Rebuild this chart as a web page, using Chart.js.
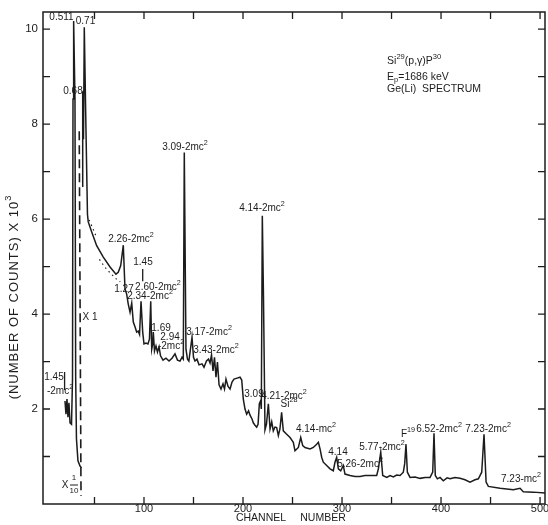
<!DOCTYPE html>
<html><head><meta charset="utf-8">
<script src="https://cdn.jsdelivr.net/npm/chart.js@4/dist/chart.umd.min.js"></script>
<style>html,body{margin:0;padding:0;background:#fff;}canvas{display:block;}</style>
</head><body>
<canvas id="c" width="548" height="525"></canvas>
<script>
// ---- spectrum shown at x 1/10 (left part) ----
const lowChannels = [20.2,21.2,22.2,23.2,24.2,25.3,26.8,27.8,28.3,28.6,29.3,30.3,31.0,31.8,33.3,35.4,36.9];
const lowCounts   = [2.17,1.89,2.21,1.83,2.13,1.71,1.68,2.63,8.53,10.17,10.17,8.53,2.67,1.37,0.91,0.80,0.76];
// ---- dashed x1 continuation ----
const dashChannels = [34.6, 36.4];
const dashCounts   = [7.85, 0.17];
// ---- main spectrum at x 1 ----
const mainChannels = [37.4,38.1,38.9,39.7,41.4,42.9,43.7,47.2,52.2,58.9,65.7,71.7,74.0,76.5,79.1,80.8,82.5,84.1,85.9,87.6,89.2,90.9,92.6,94.2,95.5,97.0,98.7,100.0,102.0,104.0,105.5,106.8,107.8,108.8,109.4,110.6,112.1,113.6,115.2,116.7,119.2,122.2,125.3,128.3,131.3,133.8,136.4,138.4,139.7,140.7,142.4,143.9,145.3,148.5,150.0,151.5,153.5,155.6,158.6,160.6,163.1,165.2,166.7,168.2,169.7,171.2,172.7,174.2,175.8,177.8,179.8,181.3,182.8,184.8,186.9,188.9,190.9,194.0,197.0,198.7,200.3,202.0,203.7,205.6,207.1,209.1,210.4,212.1,213.8,215.2,216.5,217.7,218.5,219.5,220.7,222.2,223.7,225.6,227.3,229.0,230.6,232.3,234.0,235.7,237.3,239.0,240.7,244.1,247.5,250.8,252.5,255.9,258.3,260.3,262.6,267.7,271.0,274.4,276.1,277.8,279.5,281.1,284.5,287.9,291.2,292.9,294.6,296.3,298.7,301.3,303.0,308.1,313.1,318.2,323.2,328.3,335.0,336.7,339.1,341.1,345.2,348.5,351.8,355.2,358.6,361.9,363.3,364.6,366.0,368.7,373.7,378.8,383.8,388.9,391.6,392.9,394.2,396.3,399.0,402.3,406.1,409.1,414.1,419.2,424.2,429.3,434.3,437.7,441.1,443.4,445.5,447.8,459.6,473.0,479.8,483.1,493.2,505.0];
const mainCounts = [6.69,8.69,7.68,10.04,7.89,6.10,5.94,5.73,5.44,5.20,4.99,4.84,4.88,5.02,5.45,4.53,4.42,4.21,4.04,4.23,3.83,3.73,3.62,3.64,3.57,4.27,3.62,3.37,3.39,3.37,3.47,4.27,3.26,3.37,3.62,3.22,3.33,3.20,3.31,3.12,3.03,3.07,3.01,3.07,3.16,3.03,3.01,3.09,3.05,7.40,3.26,3.05,3.01,3.51,3.09,3.01,3.05,2.93,2.95,2.88,3.01,3.05,2.97,3.14,2.80,3.09,2.67,2.99,2.51,2.42,2.53,2.42,2.63,2.48,2.42,2.57,2.63,2.65,2.67,2.61,2.21,2.00,1.89,1.96,1.87,1.79,1.71,1.66,1.62,1.68,2.11,2.17,2.00,6.07,4.32,1.56,1.68,2.11,1.58,1.73,1.54,1.62,1.61,1.44,1.58,1.93,1.54,1.47,1.40,1.30,1.12,1.19,1.40,1.23,1.19,1.16,1.19,1.26,1.30,1.16,0.98,0.88,0.81,0.74,0.70,0.88,0.98,0.74,0.70,0.81,0.63,0.60,0.58,0.58,0.60,0.60,0.60,0.74,1.09,0.60,0.56,0.60,0.57,0.61,0.60,0.67,0.85,1.26,0.67,0.56,0.57,0.54,0.56,0.56,0.67,1.49,0.60,0.53,0.56,0.49,0.55,0.53,0.56,0.54,0.51,0.46,0.51,0.53,0.67,1.47,0.46,0.37,0.33,0.30,0.33,0.26,0.25,0.23];
// ---- dotted background points ----
const dotChannels = [44.5,48.0,52.0,null,55.0,60.0,66.0,72.0,76.0];
const dotCounts   = [5.98,5.82,5.62,null,5.15,5.00,4.86,4.74,4.68];
// ---- axes ----
const xTickLabels = [100,200,300,400,500];
const yTickLabels = [2,4,6,8,10];
const xMinorTicks = [50,100,150,200,250,300,350,400,450,500];
const yMinorTicks = [1,2,3,4,5,6,7,8,9,10];
// ---- annotations: text, channel, counts (x10^3) ----
const peakLabels = [
  ["0.511",16.7,10.25],["0.71",40.9,10.17],["0.68",28.3,8.69],
  ["2.26-2mc^{2}",86.9,5.58],["1.45",99.0,5.09],["1.27",79.8,4.53],
  ["2.60-2mc^{2}",114.1,4.57],["2.34-2mc^{2}",106.1,4.38],["1.69",117.2,3.71],
  ["2.94",126.3,3.52],["-2mc^{2}",127.3,3.33],["3.09-2mc^{2}",141.4,7.52],
  ["3.17-2mc^{2}",165.7,3.62],["3.43-2mc^{2}",172.7,3.24],["4.14-2mc^{2}",219.2,6.23],
  ["3.09",211.1,2.32],["4.21-2mc^{2}",241.4,2.27],["Si^{28}",246.5,2.11],
  ["4.14-mc^{2}",273.7,1.58],["4.14",295.9,1.09],["5.26-2mc^{2}",318.2,0.84],
  ["5.77-2mc^{2}",340.4,1.20],["F^{19}",366.7,1.47],["6.52-2mc^{2}",398.0,1.58],
  ["7.23-2mc^{2}",447.5,1.58],["7.23-mc^{2}",480.8,0.53],
  ["1.45",9.1,2.67],["-2mc^{2}",15.2,2.38],["X 1",45.5,3.94]
];
const pointerLines = [[98.7,4.95,4.69],[19.8,2.78,2.40]];
const titleLines = [["Si^{29}(p,\u03b3)P^{30}",345.5,9.33],["E_{p}=1686 keV",345.5,8.99],["Ge(Li)  SPECTRUM",345.5,8.74]];

const FONT = '"Liberation Sans", Arial, sans-serif';
const INK = '#1c1c1c';
function parseRich(s){const re=/\^\{([^}]*)\}|_\{([^}]*)\}/g;let out=[],last=0,m;
  while((m=re.exec(s))){if(m.index>last)out.push({t:s.slice(last,m.index),k:0});
    if(m[1]!==undefined)out.push({t:m[1],k:1});else out.push({t:m[2],k:-1});last=re.lastIndex;}
  if(last<s.length)out.push({t:s.slice(last),k:0});return out;}
function drawRich(ctx,s,x,y,size,align){const segs=parseRich(s);let w=0;
  segs.forEach(g=>{ctx.font=(g.k?size*0.72:size)+'px '+FONT;g.w=ctx.measureText(g.t).width;w+=g.w;});
  let cx=align==='left'?x:(align==='right'?x-w:x-w/2);ctx.textAlign='left';ctx.textBaseline='middle';
  segs.forEach(g=>{ctx.font=(g.k?size*0.72:size)+'px '+FONT;const dy=g.k===1?-size*0.4:(g.k===-1?size*0.32:0);
    ctx.fillText(g.t,cx,y+dy);cx+=g.w;});}

const pts=(xs,ys)=>xs.map((c,i)=>({x:c,y:ys[i]}));
const framePlugin={id:'frame',afterDraw(chart){
  const ctx=chart.ctx,a=chart.chartArea,X=chart.scales.x,Y=chart.scales.y;
  ctx.save();ctx.strokeStyle=INK;ctx.fillStyle=INK;ctx.lineWidth=1.5;
  ctx.strokeRect(a.left,a.top,a.right-a.left,a.bottom-a.top);
  ctx.lineWidth=1.3;ctx.beginPath();
  xMinorTicks.forEach(v=>{const p=X.getPixelForValue(v);ctx.moveTo(p,a.bottom);ctx.lineTo(p,a.bottom-7);ctx.moveTo(p,a.top);ctx.lineTo(p,a.top+7);});
  yMinorTicks.forEach(v=>{const p=Y.getPixelForValue(v);ctx.moveTo(a.left,p);ctx.lineTo(a.left+7,p);ctx.moveTo(a.right,p);ctx.lineTo(a.right-7,p);});
  pointerLines.forEach(l=>{const p=X.getPixelForValue(l[0]);ctx.moveTo(p,Y.getPixelForValue(l[1]));ctx.lineTo(p,Y.getPixelForValue(l[2]));});
  ctx.stroke();
  peakLabels.forEach(l=>drawRich(ctx,l[0],X.getPixelForValue(l[1]),Y.getPixelForValue(l[2]),10,'center'));
  titleLines.forEach(l=>drawRich(ctx,l[0],X.getPixelForValue(l[1]),Y.getPixelForValue(l[2]),10.5,'left'));
  // X 1/10 fraction label
  const fx=X.getPixelForValue(29.3),fy=Y.getPixelForValue(0.40);
  drawRich(ctx,'X',X.getPixelForValue(20.2),fy,10,'center');
  drawRich(ctx,'1',fx,fy-7,8,'center');drawRich(ctx,'10',fx,fy+6,8,'center');
  ctx.beginPath();ctx.lineWidth=1;ctx.moveTo(fx-4,fy);ctx.lineTo(fx+4,fy);ctx.stroke();
  // axis titles
  ctx.font='10.5px '+FONT;ctx.textAlign='center';ctx.textBaseline='middle';
  ctx.fillText('CHANNEL',261,518);ctx.fillText('NUMBER',323,518);
  ctx.translate(14,297);ctx.rotate(-Math.PI/2);ctx.letterSpacing='1px';
  drawRich(ctx,'(NUMBER OF COUNTS) X 10^{3}',0,0,13,'center');
  ctx.restore();}};

new Chart(document.getElementById('c'),{
  type:'line',
  data:{datasets:[
    {data:pts(lowChannels,lowCounts),borderColor:INK,borderWidth:1.5,pointRadius:0,tension:0},
    {data:pts(dashChannels,dashCounts),borderColor:INK,borderWidth:1.6,borderDash:[9,5],pointRadius:0},
    {data:pts(mainChannels,mainCounts),borderColor:INK,borderWidth:1.5,pointRadius:0,tension:0},
    {data:pts(dotChannels,dotCounts),borderColor:INK,borderWidth:1.2,borderDash:[1.5,3.5],pointRadius:0,spanGaps:false}
  ]},
  options:{responsive:false,animation:false,devicePixelRatio:1,
    layout:{padding:{top:12,right:3,left:0,bottom:0}},
    plugins:{legend:{display:false},tooltip:{enabled:false}},
    scales:{
      x:{type:'linear',min:-2,max:505,grid:{display:false,drawTicks:false},border:{display:false},
        ticks:{color:INK,font:{family:FONT,size:11},padding:-2,maxRotation:0},
        afterBuildTicks(s){s.ticks=xTickLabels.map(v=>({value:v}));},
        afterFit(s){s.height=21;}},
      y:{type:'linear',min:0,max:10.36,grid:{display:false,drawTicks:false},border:{display:false},
        ticks:{color:INK,font:{family:FONT,size:11.5},padding:5},
        afterBuildTicks(s){s.ticks=yTickLabels.map(v=>({value:v}));},
        afterFit(s){s.width=43;}}
    }},
  plugins:[framePlugin]
});
</script>
</body></html>
